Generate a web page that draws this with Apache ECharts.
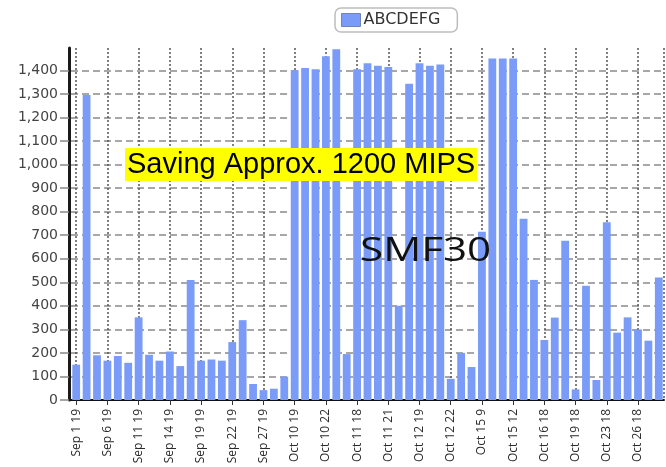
<!DOCTYPE html>
<html>
<head>
<meta charset="utf-8">
<script src="https://cdn.jsdelivr.net/npm/echarts@6/dist/echarts.min.js"></script>
<style>
  html, body { margin: 0; padding: 0; background: #fff; }
  #chart { width: 666px; height: 467px; }
</style>
</head>
<body>
<div id="chart"></div>
<script>
// labels shown on the x axis, one every 3 bars
var tickLabels = ['Sep 1 19', 'Sep 6 19', 'Sep 11 19', 'Sep 14 19', 'Sep 19 19', 'Sep 22 19',
  'Sep 27 19', 'Oct 10 19', 'Oct 10 22', 'Oct 11 18', 'Oct 11 21', 'Oct 12 19', 'Oct 12 22',
  'Oct 15 9', 'Oct 15 12', 'Oct 16 18', 'Oct 19 18', 'Oct 23 18', 'Oct 26 18'];

var seriesName = 'ABCDEFG';
var values = [150, 1295, 190, 167, 187, 158, 351, 192, 167, 206,
  144, 510, 167, 172, 167, 246, 339, 68, 42, 48,
  99, 1400, 1410, 1405, 1460, 1490, 195, 1405, 1430, 1420,
  1414, 400, 1343, 1430, 1420, 1425, 90, 200, 140, 715,
  1450, 1450, 1450, 770, 510, 255, 350, 676, 45, 485,
  85, 755, 286, 351, 300, 252, 520];

var yTicks = { min: 0, max: 1495, interval: 100 };

// one category per bar, only every third one has a label
var categories = values.map(function (v, i) {
  return i % 3 === 0 && tickLabels[i / 3] ? tickLabels[i / 3] : '';
});
// helper axis with half-width bands, so the vertical grid sits on bar centres
var halfBands = [];
for (var k = 0; k < values.length * 2; k++) halfBands.push(k);

var chart = echarts.init(document.getElementById('chart'));

var option = {
  animation: false,
  legend: {
    data: [seriesName],
    left: 335,
    top: 8,
    padding: [4, 17, 4, 6],
    borderColor: '#bdbdbd',
    borderWidth: 1.5,
    borderRadius: 6,
    itemWidth: 19,
    itemHeight: 13,
    itemGap: 5,
    icon: 'rect',
    itemStyle: { borderColor: '#6f84b8', borderWidth: 1 },
    textStyle: { fontSize: 16, color: '#333', fontFamily: 'DejaVu Sans', padding: [0, 0, 0, -2] }
  },
  grid: {
    left: 71,
    right: 2,
    top: 48,
    bottom: 67,
    outerBoundsMode: 'none'
  },
  xAxis: [{
    type: 'category',
    data: categories,
    boundaryGap: true,
    axisLine: { lineStyle: { color: '#111', width: 2 } },
    axisTick: { show: true, interval: 2, alignWithLabel: true, length: 5, lineStyle: { color: '#333' } },
    axisLabel: {
      interval: 2,
      rotate: 90,
      margin: 9,
      fontSize: 12,
      fontFamily: 'Open Sans',
      color: '#2b2b2b'
    },
    splitLine: { show: false }
  }, {
    type: 'category',
    data: halfBands,
    boundaryGap: true,
    position: 'bottom',
    axisLine: { show: false },
    axisTick: { show: false },
    axisLabel: { show: false },
    splitLine: {
      show: true,
      interval: function (idx) { return idx % 6 === 1; },
      lineStyle: { color: '#555', width: 1.5, type: [2, 2] }
    }
  }],
  yAxis: {
    type: 'value',
    min: yTicks.min,
    max: yTicks.max,
    interval: yTicks.interval,
    offset: 2,
    axisLine: { show: true, lineStyle: { color: '#1a1a1a', width: 3 } },
    axisTick: { show: true, length: 9, lineStyle: { color: '#888', width: 1.5 } },
    axisLabel: {
      showMaxLabel: false,
      margin: 11,
      fontSize: 14,
      fontFamily: 'DejaVu Sans',
      color: '#444',
      formatter: function (v) { return v.toLocaleString('en-US'); }
    },
    splitLine: {
      show: true,
      showMaxLine: false,
      lineStyle: { color: '#8a8a8a', width: 1.5, type: [7, 4] }
    }
  },
  series: [{
    name: seriesName,
    type: 'bar',
    data: values,
    barCategoryGap: '25%',
    itemStyle: { color: '#7a9cf8' }
  }],
  graphic: [{
    type: 'text',
    x: 125,
    y: 148,
    z: 100,
    style: {
      text: 'Saving Approx. 1200 MIPS',
      font: '29px "Liberation Sans", Arial, sans-serif',
      fill: '#000',
      backgroundColor: '#ffff00',
      padding: [2, 2, 1, 2],
      lineHeight: 30
    }
  }, {
    type: 'text',
    x: 360,
    y: 235,
    z: 100,
    scaleX: 1.28,
    style: {
      text: 'SMF30',
      font: '33px "Open Sans", sans-serif',
      fill: '#111'
    }
  }]
};

chart.setOption(option);
</script>
</body>
</html>
